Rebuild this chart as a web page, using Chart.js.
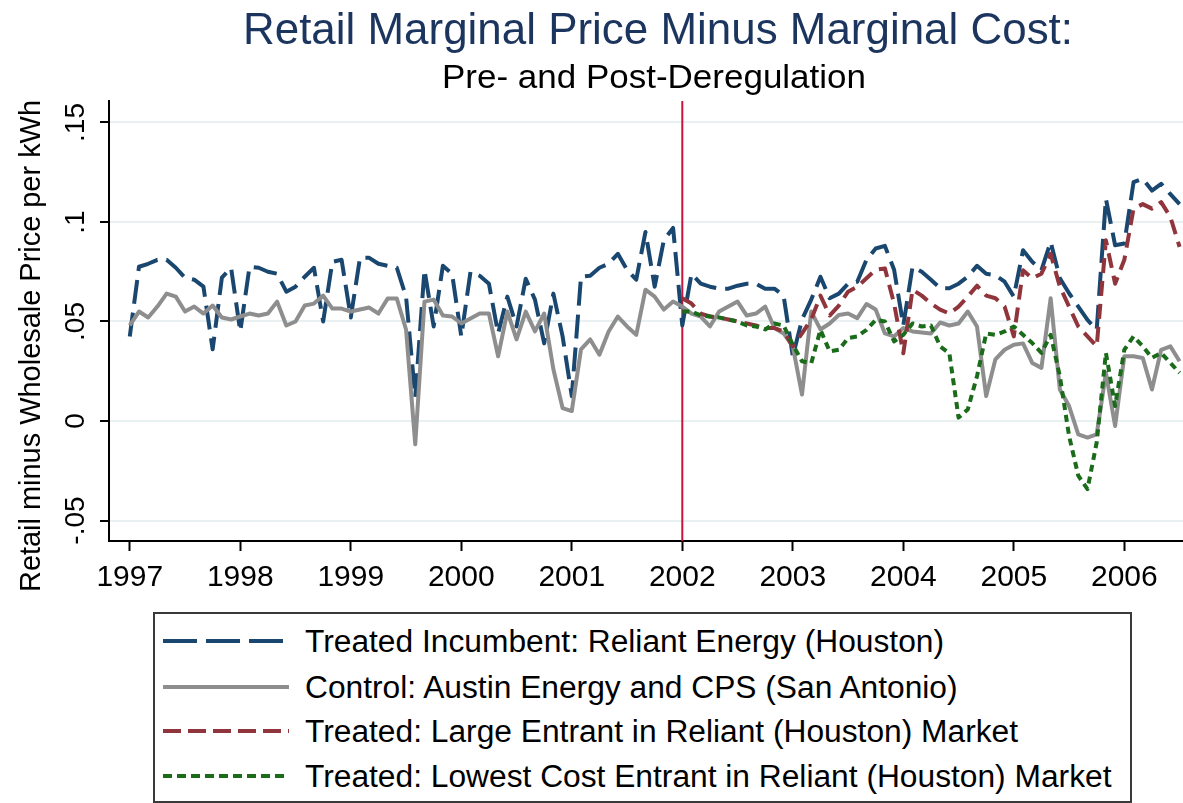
<!DOCTYPE html>
<html>
<head>
<meta charset="utf-8">
<script src="https://cdn.jsdelivr.net/npm/chart.js@4.4.0/dist/chart.umd.min.js"></script>
<style>
html,body{margin:0;padding:0;background:#fff;}
#wrap{position:relative;width:1183px;height:803px;overflow:hidden;font-family:"Liberation Sans",Arial,Helvetica,sans-serif;background:#fff;}
#c{position:absolute;left:0;top:0;}
.t{position:absolute;white-space:nowrap;transform-origin:0 0;line-height:1;}
#legendBox{position:absolute;left:153px;top:612px;width:975px;height:187px;border:2px solid #3a3a3a;box-sizing:content-box;}
</style>
</head>
<body>
<div id="wrap">
<canvas id="c" width="1183" height="610"></canvas>
<div id="title" class="t">Retail Marginal Price Minus Marginal Cost:</div>
<div id="subtitle" class="t">Pre- and Post-Deregulation</div>
<div id="ytitle" class="t">Retail minus Wholesale Price per kWh</div>
<div id="legendBox"></div>
</div>
<script>
// ---------------- DATA ----------------
const startYear = 1997;          // first observation: January 1997 (monthly)
const xTickYears = [1997, 1998, 1999, 2000, 2001, 2002, 2003, 2004, 2005, 2006];
const yTickValues = [-0.05, 0, 0.05, 0.1, 0.15];
const yTickLabels = ['-.05', '0', '.05', '.1', '.15'];
const deregulationYear = 2002;
const entrantStartIndex = 60;    // entrant series begin January 2002

const seriesNames = [
  'Treated Incumbent: Reliant Energy (Houston)',
  'Control: Austin Energy and CPS (San Antonio)',
  'Treated: Large Entrant in Reliant (Houston) Market',
  'Treated: Lowest Cost Entrant in Reliant (Houston) Market'
];

// Treated incumbent (Reliant), Jan 1997 - Jul 2006
const incumbent = [
  0.0425,0.0775,0.079,0.081,0.081,0.077,0.072,0.071,0.0675,0.036,0.072,0.077,
  0.045,0.0775,0.077,0.075,0.074,0.065,0.0675,0.0725,0.077,0.05,0.08,0.081,
  0.052,0.082,0.082,0.079,0.078,0.077,0.0625,0.012,0.076,0.0475,0.078,0.074,
  0.0425,0.075,0.073,0.069,0.044,0.0625,0.0475,0.0715,0.061,0.039,0.064,0.0425,
  0.0125,0.0725,0.073,0.077,0.079,0.084,0.076,0.071,0.095,0.0675,0.091,0.097,
  0.048,0.074,0.069,0.0675,0.0665,0.0665,0.068,0.069,0.069,0.0665,0.0665,0.063,
  0.0325,0.051,0.061,0.0725,0.0617,0.064,0.069,0.07,0.081,0.0867,0.088,0.076,
  0.048,0.0775,0.075,0.071,0.0667,0.0667,0.069,0.0725,0.078,0.074,0.0733,0.07,
  0.0625,0.0858,0.08,0.0758,0.09,0.0717,0.0642,0.0575,0.0508,0.0458,0.1117,0.0883,
  0.0892,0.12,0.1217,0.1158,0.1192,0.114,0.109
];

// Control (Austin Energy and CPS), Jan 1997 - Jul 2006
const control = [
  0.048,0.055,0.052,0.0575,0.064,0.0625,0.055,0.0575,0.054,0.058,0.052,0.051,
  0.0525,0.054,0.053,0.054,0.06,0.048,0.05,0.058,0.059,0.063,0.0565,0.0565,
  0.055,0.056,0.057,0.054,0.0615,0.0615,0.046,-0.0117,0.06,0.061,0.053,0.0525,
  0.049,0.0515,0.054,0.054,0.0325,0.055,0.041,0.055,0.045,0.054,0.026,0.0065,
  0.005,0.036,0.041,0.0333,0.045,0.0525,0.0475,0.0433,0.066,0.0625,0.056,0.06,
  0.0575,0.054,0.0525,0.0475,0.055,0.0575,0.06,0.053,0.054,0.0575,0.0467,0.044,
  0.0375,0.0133,0.055,0.046,0.049,0.0533,0.054,0.0517,0.0588,0.056,0.044,0.0425,
  0.0467,0.045,0.0445,0.044,0.0495,0.048,0.049,0.055,0.0475,0.0125,0.031,0.0358,
  0.0383,0.039,0.0292,0.0267,0.0617,0.0158,0.0075,-0.0067,-0.0083,-0.0067,0.0242,-0.0025,
  0.0325,0.0325,0.0317,0.0158,0.0358,0.0375,0.03
];

// Large entrant, Jan 2002 - Jul 2006
const largeEntrant = [
  0.0617,0.059,0.054,0.0525,0.052,0.051,0.05,0.049,0.048,0.0467,0.0467,0.045,
  0.0375,0.044,0.051,0.063,0.053,0.058,0.065,0.0675,0.0717,0.076,0.0767,0.059,
  0.034,0.066,0.063,0.059,0.056,0.054,0.0575,0.0625,0.068,0.063,0.0617,0.0575,
  0.0425,0.0758,0.0717,0.074,0.084,0.0675,0.0575,0.0475,0.0425,0.0375,0.0908,0.069,
  0.081,0.1067,0.109,0.1067,0.11,0.1025,0.0875
];

// Lowest cost entrant, Jan 2002 - Jul 2006
const lowestEntrant = [
  0.055,0.055,0.053,0.0525,0.052,0.051,0.05,0.048,0.0475,0.046,0.049,0.048,
  0.0383,0.03,0.029,0.0458,0.035,0.0358,0.0417,0.0425,0.0458,0.0508,0.05,0.04,
  0.0433,0.049,0.0475,0.048,0.0375,0.034,0.0017,0.0058,0.0225,0.044,0.0433,0.045,
  0.0475,0.0433,0.0392,0.0342,0.0433,0.0225,-0.0075,-0.0275,-0.0342,-0.0108,0.0342,0.0075,
  0.0358,0.0425,0.0375,0.0317,0.0342,0.0292,0.0242
];

// ---------------- LAYOUT / STYLE ----------------
const FONT = '"Liberation Sans", Arial, Helvetica, sans-serif';
const X_MIN = 1996.812, X_MAX = 2006.531;
const Y_MIN = -0.0603, Y_MAX = 0.1608;
const colors = ['#1a476f', '#8e8e8e', '#90353b', '#1a6b1a'];
const dashes = [[24, 9], [], [15, 8], [7, 5]];
const legendDashes = ['34 9', '', '18 7', '9 5'];

function toPoints(values, startIndex) {
  return values.map((v, k) => ({ x: startYear + (startIndex + k) / 12, y: v }));
}

const seriesData = [
  toPoints(incumbent, 0),
  toPoints(control, 0),
  toPoints(largeEntrant, entrantStartIndex),
  toPoints(lowestEntrant, entrantStartIndex)
];
const drawOrder = [3, 2, 1, 0];

const datasets = seriesData.map((d, i) => ({
  label: seriesNames[i],
  data: d,
  borderColor: colors[i],
  backgroundColor: colors[i],
  borderWidth: 4,
  borderDash: dashes[i],
  borderCapStyle: 'butt',
  borderJoinStyle: 'round',
  pointRadius: 0,
  tension: 0,
  fill: false,
  order: drawOrder[i]
}));

datasets.push({
  label: 'Deregulation',
  data: [{ x: deregulationYear, y: Y_MIN }, { x: deregulationYear, y: Y_MAX }],
  borderColor: '#c8143c',
  borderWidth: 2,
  pointRadius: 0,
  fill: false,
  order: 10
});

const CANVAS_H = 610, PLOT_LEFT = 109, PLOT_TOP = 101, PLOT_BOTTOM = 541;

new Chart(document.getElementById('c'), {
  type: 'line',
  data: { datasets },
  options: {
    responsive: false,
    animation: false,
    events: [],
    layout: { padding: { top: PLOT_TOP, left: 0, right: 0, bottom: 0 } },
    plugins: { legend: { display: false }, title: { display: false }, tooltip: { enabled: false } },
    scales: {
      x: {
        type: 'linear',
        min: X_MIN,
        max: X_MAX,
        afterBuildTicks: (axis) => { axis.ticks = xTickYears.map(v => ({ value: v })); },
        afterFit: (axis) => { axis.height = CANVAS_H - PLOT_BOTTOM; },
        ticks: {
          autoSkip: false,
          maxRotation: 0,
          minRotation: 0,
          padding: 9,
          color: '#000',
          font: { family: FONT, size: 30 },
          callback: (v) => String(v)
        },
        grid: { display: true, drawOnChartArea: false, drawTicks: true, tickLength: 10, tickColor: '#000', tickWidth: 2 },
        border: { display: true, color: '#000', width: 2 }
      },
      y: {
        type: 'linear',
        min: Y_MIN,
        max: Y_MAX,
        afterBuildTicks: (axis) => { axis.ticks = yTickValues.map(v => ({ value: v })); },
        afterFit: (axis) => { axis.width = PLOT_LEFT; },
        ticks: {
          autoSkip: false,
          minRotation: 90,
          maxRotation: 90,
          crossAlign: 'center',
          padding: 0,
          color: '#000',
          font: { family: FONT, size: 28 },
          callback: (v, i) => yTickLabels[i]
        },
        grid: { display: true, drawOnChartArea: true, color: '#e8f0f1', lineWidth: 2, drawTicks: true, tickLength: 9, tickColor: '#000', tickWidth: 2 },
        border: { display: true, color: '#000', width: 2 }
      }
    }
  }
});

// ---------------- TEXT / LEGEND (real HTML text) ----------------
const wrap = document.getElementById('wrap');
function place(el, size, left, baseline, targetWidth, color) {
  el.style.fontSize = size + 'px';
  el.style.color = color || '#000';
  el.style.left = left + 'px';
  el.style.top = (baseline - 0.8465 * size) + 'px';
  const w = el.getBoundingClientRect().width;
  if (targetWidth) el.style.transform = 'scaleX(' + (targetWidth / w) + ')';
}
place(document.getElementById('title'), 44, 243, 44, 830, '#1c355e');
place(document.getElementById('subtitle'), 33, 442, 88, 424, '#000');

// rotated y-axis title
const yt = document.getElementById('ytitle');
yt.style.fontSize = '29px';
const ytw = yt.getBoundingClientRect().width;
yt.style.left = (41 - 0.8465 * 29) + 'px';
yt.style.top = '592px';
yt.style.transform = 'rotate(-90deg) scaleX(' + (492 / ytw) + ')';

// legend
const rowCenters = [641, 687, 731, 776];
const svgNS = 'http://www.w3.org/2000/svg';
let legendScale = null;
seriesNames.forEach((name, i) => {
  const svg = document.createElementNS(svgNS, 'svg');
  svg.setAttribute('width', '126');
  svg.setAttribute('height', '10');
  svg.style.position = 'absolute';
  svg.style.left = '163px';
  svg.style.top = (rowCenters[i] - 5) + 'px';
  const ln = document.createElementNS(svgNS, 'line');
  ln.setAttribute('x1', '0'); ln.setAttribute('x2', '126');
  ln.setAttribute('y1', '5'); ln.setAttribute('y2', '5');
  ln.setAttribute('stroke', colors[i]);
  ln.setAttribute('stroke-width', '4');
  if (legendDashes[i]) ln.setAttribute('stroke-dasharray', legendDashes[i]);
  svg.appendChild(ln);
  wrap.appendChild(svg);

  const tx = document.createElement('div');
  tx.className = 't';
  tx.textContent = name;
  wrap.appendChild(tx);
  tx.style.fontSize = '31px';
  const w = tx.getBoundingClientRect().width;
  if (legendScale === null) legendScale = 639 / w;
  tx.style.left = '305px';
  tx.style.top = (rowCenters[i] + 11.5 - 0.8465 * 31) + 'px';
  tx.style.transform = 'scaleX(' + legendScale + ')';
});
</script>
</body>
</html>
